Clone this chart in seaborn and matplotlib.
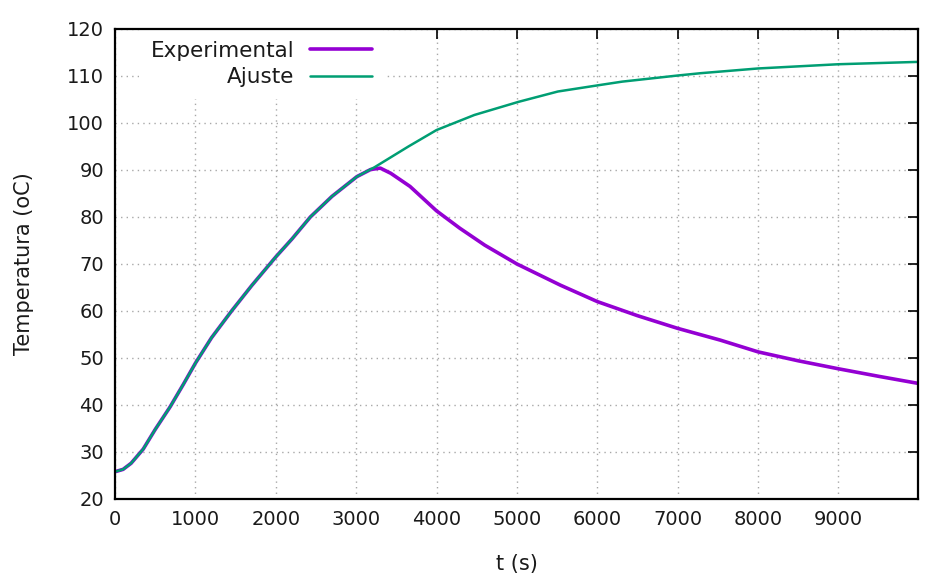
import matplotlib
matplotlib.use("Agg")
import matplotlib.pyplot as plt
import pandas as pd
import seaborn as sns

# Experimental temperature curve
t_exp = [0, 100, 200, 350, 500, 685, 850, 1000, 1200, 1450, 1700, 2000, 2200,
         2430, 2700, 3010, 3180, 3300, 3430, 3670, 4000, 4290, 4600, 5000,
         5540, 6000, 6500, 7000, 7530, 8000, 8500, 9000, 9500, 9990]
T_exp = [25.8, 26.3, 27.6, 30.6, 34.8, 39.6, 44.4, 48.9, 54.3, 60.0, 65.4,
         71.5, 75.3, 80.0, 84.4, 88.6, 90.1, 90.4, 89.3, 86.5, 81.3, 77.6,
         74.0, 70.0, 65.5, 62.0, 59.0, 56.3, 53.8, 51.3, 49.4, 47.7, 46.1, 44.6]

# Fitted curve
t_fit = [0, 100, 200, 350, 500, 685, 850, 1000, 1200, 1450, 1700, 2000, 2200,
         2430, 2700, 3010, 3230, 3650, 4000, 4470, 5020, 5510, 6040, 6310,
         7000, 7290, 8000, 9000, 9990]
T_fit = [25.8, 26.3, 27.6, 30.6, 34.8, 39.6, 44.4, 48.9, 54.3, 60.0, 65.4,
         71.5, 75.3, 80.0, 84.4, 88.6, 90.6, 95.0, 98.5, 101.7, 104.5, 106.7,
         108.1, 108.8, 110.1, 110.6, 111.6, 112.5, 113.0]

x_ticks = list(range(0, 10000, 1000))
y_ticks = list(range(20, 121, 10))

PURPLE = "#9400d3"
GREEN = "#009e73"
TEXT = "#1a1a1a"

sns.set_theme(style="white")
plt.rcParams["font.family"] = ["DejaVu Sans"]

exp_df = pd.DataFrame({"t": t_exp, "T": T_exp})
fit_df = pd.DataFrame({"t": t_fit, "T": T_fit})

fig, ax = plt.subplots(figsize=(9.43, 5.74), dpi=100)
fig.subplots_adjust(left=0.122, right=0.9735, top=0.9495, bottom=0.1307)

sns.lineplot(data=exp_df, x="t", y="T", ax=ax, color=PURPLE, lw=2.6,
             label="Experimental")
sns.lineplot(data=fit_df, x="t", y="T", ax=ax, color=GREEN, lw=1.8,
             label="Ajuste")

ax.set_xlim(0, 9990)
ax.set_ylim(20, 120)
ax.set_xticks(x_ticks)
ax.set_yticks(y_ticks)
ax.grid(True, color="#a8a8a8", linestyle=(0, (1, 3)), lw=1.0)
ax.tick_params(direction="in", length=7, width=1.2, top=True, right=True,
               labelsize=14, colors="black", pad=8)
ax.tick_params(axis="both", labelcolor=TEXT)
for sp in ax.spines.values():
    sp.set_color("black")
    sp.set_linewidth(1.6)

ax.set_xlabel("t (s)", fontsize=15, color=TEXT, labelpad=18)
ax.set_ylabel("Temperatura (oC)", fontsize=15, color=TEXT, labelpad=24)

# gnuplot-style key: right-aligned labels with the sample line after them
leg = ax.legend(loc="upper left", bbox_to_anchor=(0.030, 1.0), fontsize=15.5,
                markerfirst=False, frameon=True, facecolor="white",
                edgecolor="none", framealpha=1, handlelength=2.9,
                handletextpad=0.7, labelspacing=0.3, borderaxespad=0,
                borderpad=0.55)
leg.set_zorder(2.2)  # keep the frame under the spines and ticks
for t in leg.get_texts():
    t.set_color(TEXT)

fig.savefig("out.png", dpi=100)
